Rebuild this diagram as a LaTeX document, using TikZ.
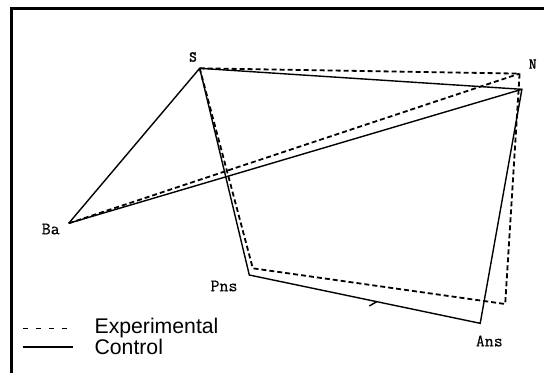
\documentclass[tikz,border=0pt]{standalone}
\usepackage{fontspec}
\setmainfont{Liberation Sans}
\newfontfamily\lblfont[FakeBold=0.25]{Latin Modern Mono}
\newfontfamily\lblboldfont[FakeBold=2]{Latin Modern Mono}
\begin{document}
\begin{tikzpicture}[x=1bp,y=-1bp,
  ctrl/.style={line width=1.4bp, line join=miter},
  expl/.style={line width=1.8bp, dash pattern=on 5bp off 3bp},
  vlbl/.style={font=\lblfont\fontsize{17.5}{17.5}\selectfont, inner sep=0pt},
  vlblb/.style={font=\lblboldfont\fontsize{15}{15}\selectfont, inner sep=0pt},
  legtxt/.style={font=\fontsize{21.3}{24}\selectfont, anchor=base west, inner sep=0pt},
  framestyle/.style={line width=2.7bp}]
\useasboundingbox (0,0) rectangle (544,373);
% frame
\coordinate (fBL) at (11.5,373);
\coordinate (fTL) at (11.5,8.7);
\coordinate (fTR) at (544,8.7);
\draw[framestyle] (fBL) -- (fTL) -- (fTR);
% vertices
\coordinate (S) at (199.7,68.3);
\coordinate (Nc) at (521.9,89.3);
\coordinate (Ne) at (519.6,73.6);
\coordinate (Ba) at (68.7,223.3);
\coordinate (Pc) at (249.3,275);
\coordinate (Pe) at (252.8,268.3);
\coordinate (Ac) at (480.2,323.3);
\coordinate (Ae) at (505.2,304);
% experimental
\draw[expl] (S) -- (Ne) -- (Ae) -- (Pe) -- (S);
\draw[expl] (Ba) -- (Ne);
% control
\draw[ctrl] (Ba) -- (S) -- (Nc) -- (Ac) -- (Pc) -- (S);
\draw[ctrl] (Ba) -- (Nc);
\coordinate (t1) at (376.7,301.7);
\coordinate (t2) at (369.3,306);
\draw[ctrl] (t1) -- (t2);
% labels
\node[vlblb] (lS) at (193,57) {S};
\node[vlblb] (lN) at (532.7,64) {N};
\node[vlbl] (lBa) at (50.7,229) {Ba};
\node[vlbl] (lPns) at (224,286) {Pns};
\node[vlbl] (lAns) at (489.3,341) {Ans};
% legend
\coordinate (d1) at (22.6,328.3);
\coordinate (d2) at (67.7,328.3);
\draw[line width=1.6bp, dash pattern=on 5bp off 8bp] (d1) -- (d2);
\coordinate (s1) at (22.6,346.7);
\coordinate (s2) at (73,346.7);
\draw[line width=1.6bp] (s1) -- (s2);
\node[legtxt] (lExp) at (94.4,333.5) {Experimental};
\node[legtxt] (lCtl) at (94.4,354) {Control};
\end{tikzpicture}
\end{document}
